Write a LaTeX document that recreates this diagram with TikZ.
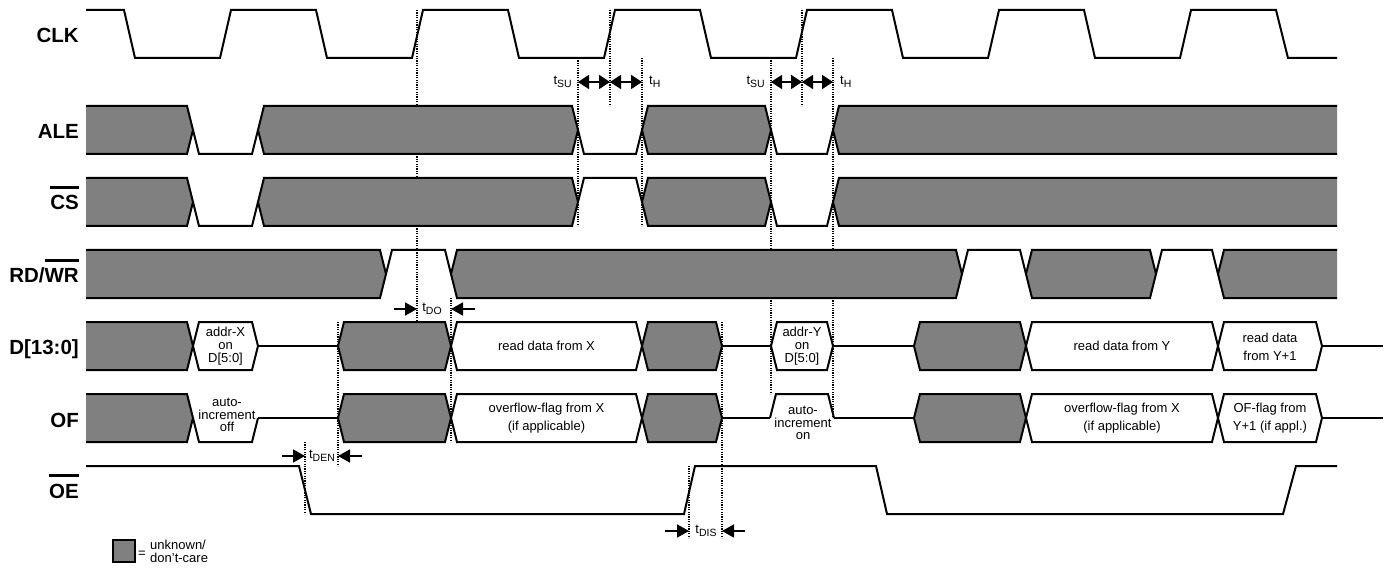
\documentclass[tikz,border=0pt]{standalone}
\usepackage{fontspec}
\setmainfont{Liberation Sans}
\usepackage{tikz}
\usetikzlibrary{arrows.meta,positioning}
\definecolor{dcgray}{RGB}{128,128,128}
\newcommand{\ovl}[1]{\vbox{\hrule height 2.4pt\kern 7pt\hbox{#1}}}
\newcommand{\tpar}[1]{t\raisebox{-3pt}{\fontsize{10.5}{10.5}\selectfont #1}}

\begin{document}
\begin{tikzpicture}[x=1pt, y=-1pt,
    sig/.style={line width=2pt},
    dc/.style={sig, fill=dcgray},
    wbox/.style={sig, fill=white},
    lbl/.style={anchor=base east, font=\fontsize{20.5}{21}\selectfont\bfseries, inner sep=0pt},
    txt/.style={font=\fontsize{13}{12.8}\selectfont, align=center, inner sep=0pt},
    txtw/.style={txt, font=\fontsize{13}{18.5}\selectfont},
    guide/.style={line width=1.4pt, dash pattern=on 1.2pt off 1.2pt},
    dim/.style={line width=1.8pt, -{Triangle[length=12pt,width=13pt]}},
    ddim/.style={line width=1.8pt, {Triangle[length=11pt,width=14pt]}-{Triangle[length=11pt,width=14pt]}}
]
    \useasboundingbox (0,0) rectangle (1394,569);

    % Guide lines (behind the signals)
    \foreach \x/\ya/\yb in {417/10/322, 578/58/226, 610/10/106, 642/58/226, 771/58/394, 802/10/106,
                            833/58/418, 338/322/466, 451/298/442, 305/442/514, 722/322/538, 689/466/538}
        \draw[guide] (\x,\ya) -- (\x,\yb);

    % Signal names
    \node[lbl] (lclk) at (79,43)  {CLK};
    \node[lbl] (lale) at (79,139) {ALE};
    \node[lbl] (lcs)  at (79,210) {\ovl{CS}};
    \node[lbl] (lrd)  at (79,283) {RD/\ovl{WR}};
    \node[lbl] (ld)   at (79,354) {D[13:0]};
    \node[lbl] (lof)  at (79,427) {OF};
    \node[lbl] (loe)  at (79,498) {\ovl{OE}};

    % Clock
    \draw[sig] (86,10) foreach \k in {0,...,5} { -- (124+192*\k,10) -- (135+192*\k,58) -- (220+192*\k,58) -- (231+192*\k,10) }
        -- (1276,10) -- (1288,58) -- (1337,58);

    % Don't-care runs at the left and right ends
    \foreach \b/\m in {193/130, 193/202, 386/274, 193/346, 193/418}
        \draw[dc] (86,\m-24) -- (\b-6,\m-24) -- (\b,\m) -- (\b-6,\m+24) -- (86,\m+24);
    \foreach \a/\m in {833/130, 833/202, 1218/274}
        \draw[dc] (1337,\m-24) -- (\a+6,\m-24) -- (\a,\m) -- (\a+6,\m+24) -- (1337,\m+24);

    % Don't-care blocks
    \foreach \a/\b/\m in {258/578/130, 642/771/130, 258/578/202, 642/771/202, 451/962/274, 1026/1156/274,
                          338/451/346, 642/722/346, 914/1026/346, 338/451/418, 642/722/418, 914/1026/418}
        \draw[dc] (\a,\m) -- (\a+6,\m-24) -- (\b-6,\m-24) -- (\b,\m) -- (\b-6,\m+24) -- (\a+6,\m+24) -- cycle;

    % Valid data blocks
    \foreach \a/\b/\m in {193/258/346, 451/642/346, 771/833/346, 1026/1218/346, 1218/1322/346,
                          451/642/418, 1026/1218/418, 1218/1322/418}
        \draw[wbox] (\a,\m) -- (\a+6,\m-24) -- (\b-6,\m-24) -- (\b,\m) -- (\b-6,\m+24) -- (\a+6,\m+24) -- cycle;

    % Low and high pulses
    \foreach \a/\b/\m in {193/258/130, 578/642/130, 771/833/130, 193/258/202, 771/833/202, 193/258/418}
        \draw[sig] (\a,\m) -- (\a+6,\m+24) -- (\b-6,\m+24) -- (\b,\m);
    \foreach \a/\b/\m in {578/642/202, 386/451/274, 962/1026/274, 1156/1218/274, 770/834/418}
        \draw[sig] (\a,\m) -- (\a+6,\m-24) -- (\b-6,\m-24) -- (\b,\m);

    % High-impedance runs
    \foreach \a/\b/\m in {258/338/346, 722/771/346, 833/914/346, 1322/1383/346,
                          258/338/418, 722/770/418, 834/914/418, 1322/1383/418}
        \draw[sig] (\a,\m) -- (\b,\m);

    % Output enable
    \draw[sig] (86,466) -- (299,466) -- (311,514) -- (684,514) -- (695,466) -- (876,466)
        -- (887,514) -- (1283,514) -- (1296,466) -- (1337,466);

    % Bus contents
    \node[txt]  (addrx) at (225.5,346) {addr-X\\on\\D[5:0]};
    \node[txt]  (rdx)   at (546.5,346) {read data from X};
    \node[txt]  (addry) at (802,346)   {addr-Y\\on\\D[5:0]};
    \node[txt]  (rdy)   at (1122,346)  {read data from Y};
    \node[txtw] (rdy1)  at (1270,347)  {read data\\from Y+1};
    \node[txt]  (aioff) at (227,415)   {auto-\\increment\\off};
    \node[txtw] (ofx)   at (546.5,418) {overflow-flag from X\\(if applicable)};
    \node[txt]  (aion)  at (803,423)   {auto-\\increment\\on};
    \node[txtw] (ofx2)  at (1122,418)  {overflow-flag from X\\(if applicable)};
    \node[txtw] (ofy1)  at (1270,418)  {OF-flag from\\Y+1 (if appl.)};

    % Setup and hold around the two address latches
    \coordinate (su1) at (578,82); \coordinate (ck1) at (610,82); \coordinate (ho1) at (642,82);
    \coordinate (su2) at (771,82); \coordinate (ck2) at (802,82); \coordinate (ho2) at (833,82);
    \draw[ddim] (su1) -- (ck1);
    \draw[ddim] (ck1) -- (ho1);
    \draw[ddim] (su2) -- (ck2);
    \draw[ddim] (ck2) -- (ho2);
    \node[txt, left=6pt of su1]  (tsu1) {\tpar{SU}};
    \node[txt, right=7pt of ho1] (th1)  {\tpar{H}};
    \node[txt, left=6pt of su2]  (tsu2) {\tpar{SU}};
    \node[txt, right=7pt of ho2] (th2)  {\tpar{H}};

    % Output timing
    \coordinate (do0) at (394,309); \coordinate (do1) at (417,309);
    \coordinate (do2) at (451,309); \coordinate (do3) at (475,309);
    \draw[dim] (do0) -- (do1);
    \draw[dim] (do3) -- (do2);
    \node[txt] (tdo) at (432,309) {\tpar{DO}};

    \coordinate (den0) at (282,456); \coordinate (den1) at (305,456);
    \coordinate (den2) at (338,456); \coordinate (den3) at (362,456);
    \draw[dim] (den0) -- (den1);
    \draw[dim] (den3) -- (den2);
    \node[txt] (tden) at (322,456) {\tpar{DEN}};

    \coordinate (dis0) at (665,531); \coordinate (dis1) at (689,531);
    \coordinate (dis2) at (722,531); \coordinate (dis3) at (745,531);
    \draw[dim] (dis0) -- (dis1);
    \draw[dim] (dis3) -- (dis2);
    \node[txt] (tdis) at (706,531) {\tpar{DIS}};

    % Legend
    \node[draw, line width=2pt, fill=dcgray, minimum size=22pt, inner sep=0pt] (key) at (124,551) {};
    \node[txt, anchor=west] (keyeq) at (138,554) {=};
    \node[txt, anchor=west, align=left, font=\fontsize{13}{13}\selectfont] (keytxt) at (150,551.5) {unknown/\\don't-care};
\end{tikzpicture}
\end{document}
